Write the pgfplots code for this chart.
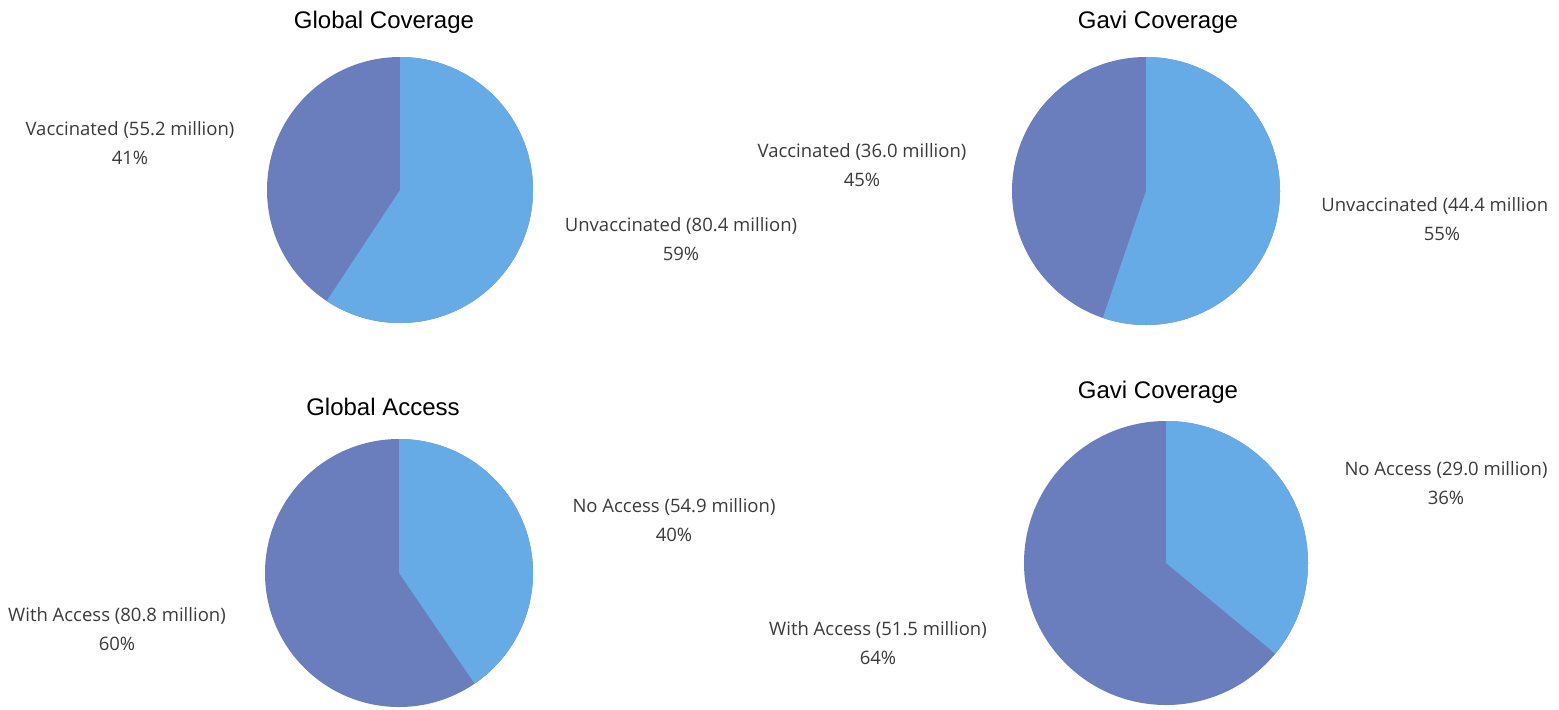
\documentclass[border=0pt]{standalone}
\usepackage{pgfplots}
\pgfplotsset{compat=1.18}
\usepackage{fontspec}
\setmainfont{Open Sans}
\newfontfamily\titlefont{Liberation Sans}
\definecolor{lightc}{HTML}{66ABE5}
\definecolor{darkc}{HTML}{6A7DBD}
\definecolor{txt}{HTML}{3A3A3A}
% #1,#2 centre (px), #3 radius (pt), #4 light value, #5 dark value
\newcommand{\pie}[5]{%
  \fill[darkc] (axis cs:#1,#2) circle[radius=#3pt];
  \fill[lightc] (axis cs:#1,#2) -- ++(90:#3pt) arc[start angle=90, end angle={90-360*(#4/(#4+#5))}, radius=#3pt] -- cycle;
}
\begin{document}
\begin{tikzpicture}
\begin{axis}[hide axis, scale only axis, width=779.5pt, height=354.5pt,
  xmin=0, xmax=1559, ymin=0, ymax=709, y dir=reverse, clip=false]
\addplot[draw=none] coordinates {(0,0) (1559,709)};
\pie{400}{190}{66.5}{80.4}{55.2}
\pie{1146}{191}{67}{44.4}{36.0}
\pie{399}{573}{67}{54.9}{80.8}
\pie{1166}{563}{71}{29.0}{51.5}
\tikzset{lab/.style={font=\fontsize{9.25}{14.2}\selectfont, text=txt, align=center, inner sep=0pt},
  ttl/.style={font=\titlefont\fontsize{12}{14}\selectfont, text=black, inner sep=0pt}}
\node[ttl] at (axis cs:384,22) {Global Coverage};
\node[ttl] at (axis cs:1158,22) {Gavi Coverage};
\node[ttl] at (axis cs:383,407) {Global Access};
\node[ttl] at (axis cs:1158,392) {Gavi Coverage};
\node[lab] at (axis cs:130,143) {Vaccinated (55.2 million)\\41\%};
\node[lab] at (axis cs:681,239) {Unvaccinated (80.4 million)\\59\%};
\node[lab] at (axis cs:862,165) {Vaccinated (36.0 million)\\45\%};
\node[lab, anchor=west] at (axis cs:1321,206) {Unvaccinated (44.4 million};
\node[lab] at (axis cs:1442,234) {55\%};
\node[lab] at (axis cs:674,520) {No Access (54.9 million)\\40\%};
\node[lab] at (axis cs:117,629) {With Access (80.8 million)\\60\%};
\node[lab] at (axis cs:878,643) {With Access (51.5 million)\\64\%};
\node[lab] at (axis cs:1446,483) {No Access (29.0 million)\\36\%};
\end{axis}
\pgfresetboundingbox
\path[use as bounding box] (0,0) rectangle (779.5pt,354.5pt);
\end{tikzpicture}
\end{document}
